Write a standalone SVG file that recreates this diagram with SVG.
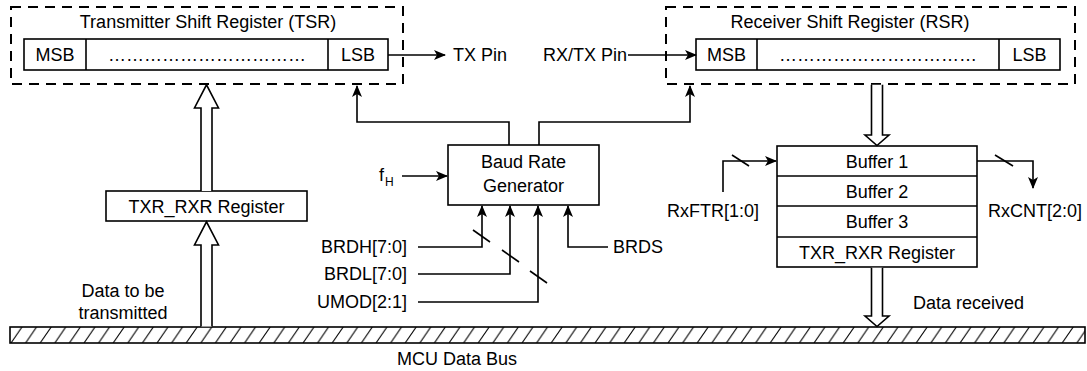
<svg xmlns="http://www.w3.org/2000/svg" width="1087" height="371" viewBox="0 0 1087 371">
<style>
text{font-family:"Liberation Sans",Arial,sans-serif;font-size:18px;fill:#000}
.c{text-anchor:middle}
.e{text-anchor:end}
.box{fill:#fff;stroke:#000;stroke-width:1.6}
.dash{fill:none;stroke:#000;stroke-width:2;stroke-dasharray:10 7}
.ln{fill:none;stroke:#000;stroke-width:1.6}
.hol{fill:#fff;stroke:#000;stroke-width:1.6;stroke-linejoin:miter}
</style>
<defs>
<marker id="ah" viewBox="0 0 12 10" refX="11" refY="5" markerWidth="12" markerHeight="10" markerUnits="userSpaceOnUse" orient="auto">
<path d="M0,0 L12,5 L0,10 L3,5 Z" fill="#000"/>
</marker>
<pattern id="hatch" width="14.6" height="16" patternUnits="userSpaceOnUse" x="10" y="327">
<line x1="1" y1="16" x2="12" y2="0" stroke="#000" stroke-width="1.1"/>
</pattern>
</defs>

<g id="tsr">
<rect class="dash" x="11" y="7" width="392" height="77"/>
<text class="c" x="208" y="28">Transmitter Shift Register (TSR)</text>
<rect class="box" x="24" y="39" width="364" height="31"/>
<line class="ln" x1="86" y1="39" x2="86" y2="70"/>
<line class="ln" x1="328" y1="39" x2="328" y2="70"/>
<text class="c" x="55" y="61">MSB</text>
<text class="c" x="207" y="61">……………………………</text>
<text class="c" x="358" y="61">LSB</text>
</g>

<g id="rsr">
<rect class="dash" x="666" y="7" width="409" height="77"/>
<text class="c" x="850" y="28">Receiver Shift Register (RSR)</text>
<rect class="box" x="696" y="39" width="364" height="31"/>
<line class="ln" x1="757" y1="39" x2="757" y2="70"/>
<line class="ln" x1="999" y1="39" x2="999" y2="70"/>
<text class="c" x="726.5" y="61">MSB</text>
<text class="c" x="878" y="61">……………………………</text>
<text class="c" x="1029.5" y="61">LSB</text>
</g>

<g id="txr-left">
<rect class="box" x="106" y="191" width="201" height="30"/>
<text class="c" x="206.5" y="213">TXR_RXR Register</text>
</g>

<g id="brg">
<rect class="box" x="448" y="145" width="151" height="60"/>
<text class="c" x="523.5" y="168">Baud Rate</text>
<text class="c" x="523.5" y="192">Generator</text>
</g>

<g id="buffers">
<rect class="box" x="777" y="146" width="200" height="121"/>
<line class="ln" x1="777" y1="176" x2="977" y2="176"/>
<line class="ln" x1="777" y1="206" x2="977" y2="206"/>
<line class="ln" x1="777" y1="237" x2="977" y2="237"/>
<text class="c" x="877" y="168">Buffer 1</text>
<text class="c" x="877" y="198">Buffer 2</text>
<text class="c" x="877" y="228">Buffer 3</text>
<text class="c" x="877" y="259">TXR_RXR Register</text>
</g>

<g id="bus">
<rect x="10" y="327" width="1075" height="16" fill="url(#hatch)" stroke="#000" stroke-width="1.6"/>
<text class="c" x="457" y="365">MCU Data Bus</text>
</g>

<g id="labels">
<text x="453" y="61">TX Pin</text>
<text x="543" y="61">RX/TX Pin</text>
<text x="379" y="181">f</text>
<text x="385" y="186" style="font-size:12px">H</text>
<text class="e" x="407" y="253">BRDH[7:0]</text>
<text class="e" x="407" y="280">BRDL[7:0]</text>
<text class="e" x="407" y="308">UMOD[2:1]</text>
<text x="613" y="253">BRDS</text>
<text x="667" y="217">RxFTR[1:0]</text>
<text x="988" y="217">RxCNT[2:0]</text>
<text class="c" x="123" y="297">Data to be</text>
<text class="c" x="123" y="319">transmitted</text>
<text x="913" y="309">Data received</text>
</g>

<g id="connectors">
<line class="ln" x1="388" y1="55" x2="445" y2="55" marker-end="url(#ah)"/>
<line class="ln" x1="628" y1="55" x2="696" y2="55" marker-end="url(#ah)"/>
<polyline class="ln" points="509,145 509,122 357,122 357,86" marker-end="url(#ah)"/>
<polyline class="ln" points="539,145 539,122 690,122 690,86" marker-end="url(#ah)"/>
<line class="ln" x1="402" y1="176" x2="447" y2="176" marker-end="url(#ah)"/>
<polyline class="ln" points="418,247 482,247 482,206" marker-end="url(#ah)"/>
<polyline class="ln" points="418,274 510,274 510,206" marker-end="url(#ah)"/>
<polyline class="ln" points="418,302 538,302 538,206" marker-end="url(#ah)"/>
<polyline class="ln" points="608,247 568,247 568,206" marker-end="url(#ah)"/>
<line class="ln" x1="473" y1="230" x2="490" y2="242"/>
<line class="ln" x1="502" y1="250" x2="519" y2="262"/>
<line class="ln" x1="530" y1="271" x2="547" y2="283"/>
<polyline class="ln" points="723,192 723,161 776,161" marker-end="url(#ah)"/>
<line class="ln" x1="732" y1="155" x2="749" y2="166"/>
<polyline class="ln" points="977,161 1033,161 1033,188" marker-end="url(#ah)"/>
<line class="ln" x1="995" y1="155" x2="1013" y2="166"/>
<path class="hol" d="M201,191 L201,108 L194.5,108 L206.5,84.8 L218.5,108 L212,108 L212,191"/>
<path class="hol" d="M201,326.5 L201,245 L194.5,245 L206.5,221.8 L218.5,245 L212,245 L212,326.5"/>
<path class="hol" d="M871.5,84.8 L871.5,135 L865,135 L877,145.5 L889,135 L882.5,135 L882.5,84.8"/>
<path class="hol" d="M871.5,267.8 L871.5,316 L865,316 L877,326.5 L889,316 L882.5,316 L882.5,267.8"/>
</g>
</svg>
